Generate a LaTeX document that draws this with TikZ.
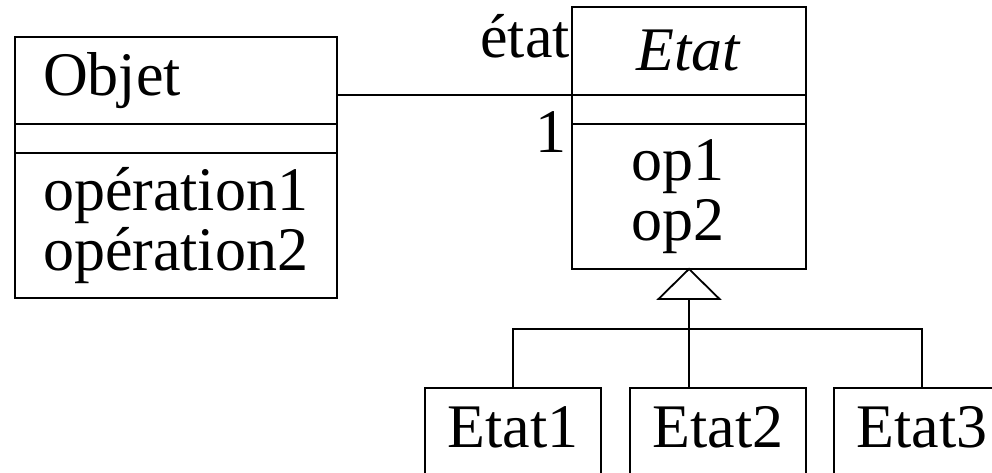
\documentclass[tikz,border=0pt]{standalone}
\usepackage{fontspec}
\setmainfont{Liberation Serif}
\usetikzlibrary{positioning,calc}
\tikzset{
  cpart/.style={draw,line width=1.8pt,inner sep=0pt,outer sep=0pt},
  oppart/.style={cpart,align=left,inner xsep=#1},
  childbox/.style={draw,line width=1.8pt,minimum width=176pt,inner xsep=0pt,
    inner ysep=19pt,text height=41pt,text depth=80pt,anchor=north},
  link/.style={line width=1.8pt}
}

\begin{document}
\begin{tikzpicture}[x=1pt,y=-1pt,font=\fontsize{62pt}{60pt}\selectfont]
  \useasboundingbox (0,0) rectangle (992,473);
  \clip (0,0) rectangle (992,473);

  % class Objet
  \node[oppart=28pt,text width=266pt,minimum height=87pt,anchor=north west]
    (objname) at (15,37) {Objet};
  \node[cpart,minimum width=322pt,minimum height=29pt,below=0pt of objname] (objattr) {};
  \node[oppart=28pt,text width=266pt,minimum height=145pt,below=0pt of objattr]
    (objops) {op\'eration1\\op\'eration2};

  % abstract class Etat
  \node[cpart,minimum width=234pt,minimum height=88pt,anchor=north west]
    (etatname) at (572,7) {\textit{Etat}};
  \node[cpart,minimum width=234pt,minimum height=29pt,below=0pt of etatname] (etatattr) {};
  \node[oppart=59pt,text width=116pt,minimum height=145pt,below=0pt of etatattr]
    (etatops) {op1\\op2};

  % association
  \draw[link] (objname.east |- etatname.south) -- (etatname.south west);
  \node[inner sep=0pt,anchor=base east] (rolename) at (570,58) {\'etat};
  \node[inner sep=0pt,anchor=base east] (mult) at (567,153) {1};

  % subclasses
  \node[childbox] (etat1) at (513,387) {Etat1};
  \node[childbox,anchor=north west] (etat2) at (629,387) {Etat2};
  \node[childbox] (etat3) at (922,387) {Etat3};

  % generalisation
  \coordinate (tribase) at ($(etatops.south)+(0,30)$);
  \coordinate (bus) at ($(tribase)+(0,30)$);
  \draw[link,line join=miter] (etatops.south) -- ($(tribase)+(-30.5,0)$)
    -- ($(tribase)+(30.5,0)$) -- cycle;
  \draw[link] (tribase) -- (tribase |- etat2.north);
  \draw[link] (etat1.north) |- (bus) -| (etat3.north);
\end{tikzpicture}
\end{document}
